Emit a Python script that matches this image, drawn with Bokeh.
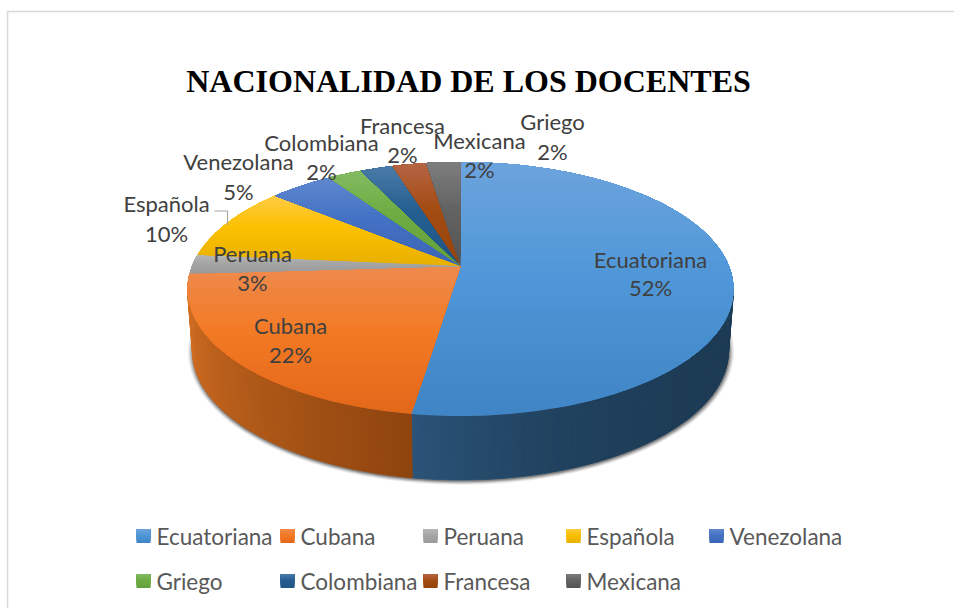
import numpy as np
from bokeh.embed import file_html
from bokeh.resources import INLINE
from bokeh.plotting import figure
from bokeh.models import Range1d
from bokeh.core.properties import value

# ---- data ----
title = "NACIONALIDAD DE LOS DOCENTES"
categories = ["Ecuatoriana", "Cubana", "Peruana", "Española", "Venezolana",
              "Griego", "Colombiana", "Francesa", "Mexicana"]
shares = [52.4, 21.6, 2.5, 9.5, 4.5, 2.4, 2.3, 2.4, 2.4]
percent_labels = ["52%", "22%", "3%", "10%", "5%", "2%", "2%", "2%", "2%"]

# ---- styles ----
top_colors = ["#6CA4DC", "#EE8A4E", "#B8B8B8", "#FFCB45", "#6088CF", "#83BB63", "#4A7CA8", "#B56545", "#7E7E7E"]
mid_colors = ["#4F97D8", "#F37A24", "#A5A5A5", "#FBC000", "#4472C4", "#6DAD42", "#255E91", "#A44C12", "#636363"]
low_colors = ["#3F85C6", "#E2671A", "#9A9A9A", "#E8B000", "#3A64B5", "#64A03A", "#1F5585", "#95440C", "#545454"]
wall_right = {0: "#1C3A54", 1: "#8E440E"}
wall_left = {0: "#2A5478", 1: "#D26E22"}
wall_power = {0: 3.0, 1: 1.0}

# ---- layout ----
label_xy = [(651, 260, 288), (291, 326, 355), (253, 254, 283), (167, 204, 234), (239, 162, 192),
            (553, 122, 152), (322, 143, 172), (403, 126, 155), (480, 141, 170)]
legend_x = [137, 281, 424, 567, 710]
legend_y = [537, 582]
FONT = "Lato"


def hex2rgb(c):
    return np.array([int(c[i:i + 2], 16) for i in (1, 3, 5)], float)


def mix(a, b, t):
    v = hex2rgb(a) * (1 - t) + hex2rgb(b) * t
    return "#%02x%02x%02x" % tuple(int(round(x)) for x in v)


# pie projection: a circle seen in perspective
CX, APEX_Y = 461.0, 267.0
UP, DOWN, RX = 104.0, 150.0, 273.0
A = (DOWN - UP) / (DOWN + UP)
B = UP * (1 + A)
E = RX * np.sqrt(1 - A * A)
ELL_CY = APEX_Y + (DOWN - UP) / 2
ELL_RY = (UP + DOWN) / 2
BOT_CY, BOT_RY, BOT_RX = 352.0, 129.0, 268.0


def rim(theta):
    d = 1 + A * np.cos(theta)
    return CX + E * np.sin(theta) / d, APEX_Y - B * np.cos(theta) / d


def phi_of(theta):
    x, y = rim(theta)
    return np.mod(np.arctan2((x - CX) / RX, (ELL_CY - y) / ELL_RY), 2 * np.pi)


def clip_above(px, py, ylim):
    """Keep the part of a polygon with y <= ylim."""
    ox, oy = [], []
    n = len(px)
    for i in range(n):
        x1, y1, x2, y2 = px[i], py[i], px[(i + 1) % n], py[(i + 1) % n]
        in1, in2 = y1 <= ylim, y2 <= ylim
        if in1:
            ox.append(x1); oy.append(y1)
        if in1 != in2:
            t = (ylim - y1) / (y2 - y1)
            ox.append(x1 + t * (x2 - x1)); oy.append(ylim)
    return ox, oy


def gradient(px, py, c_top, c_mid, c_low, n=28):
    ymin, ymax = min(py), max(py)
    xs, ys, cols = [], [], []
    for k in range(n, 0, -1):
        f = k / n
        lim = ymin + (ymax - ymin) * f
        cx, cy = clip_above(list(px), list(py), lim + (1e-6 if k == n else 0))
        if len(cx) < 3:
            continue
        g = (k - .5) / n
        col = mix(c_top, c_mid, g / .45) if g < .45 else mix(c_mid, c_low, (g - .45) / .55)
        xs.append(cx); ys.append(cy); cols.append(col)
    return xs, ys, cols


p = figure(width=954, height=608, output_backend="svg", toolbar_location=None,
           x_range=Range1d(1, 955), y_range=Range1d(609.5, 1.5), min_border=0,
           outline_line_color=None, background_fill_color="white")
p.axis.visible = False
p.grid.visible = False

# chart frame (only left and top edges fall inside the picture)
p.line([8.0, 8.0, 955], [610, 12.5, 12.5], line_color="#D9D9D9", line_width=1.6)

p.text([469], [82], text=[title], text_font=value("Liberation Serif"), text_font_style="bold",
       text_font_size="32px", text_color="black", text_align="center", text_baseline="middle")

# soft shadow under the wall
phi = np.linspace(0, 2 * np.pi, 240)
for g, al in [(5.0, .07), (4.0, .10), (3.0, .14), (2.0, .20), (1.0, .28)]:
    p.patch(CX + 0.5 + (BOT_RX + g) * np.sin(phi), BOT_CY + .8 + (BOT_RY + g * .8) * np.cos(phi),
            fill_color="#303030", fill_alpha=al, line_color=None)

# side wall
total = sum(shares)
bounds = np.cumsum([0] + shares) / total * 2 * np.pi
xs, ys, cols = [], [], []
for i in range(len(shares)):
    if i not in wall_right:
        continue
    f0, f1 = float(phi_of(bounds[i])), float(phi_of(bounds[i + 1]))
    f0, f1 = max(f0, np.pi / 2), min(f1, 3 * np.pi / 2)
    if f1 <= f0:
        continue
    grid = np.linspace(f0, f1, max(4, int((f1 - f0) / np.radians(1.5))))
    for a, b in zip(grid[:-1], grid[1:]):
        xs.append([CX + RX * np.sin(a), CX + RX * np.sin(b), CX + BOT_RX * np.sin(b), CX + BOT_RX * np.sin(a)])
        ys.append([ELL_CY - ELL_RY * np.cos(a), ELL_CY - ELL_RY * np.cos(b),
                   BOT_CY - BOT_RY * np.cos(b), BOT_CY - BOT_RY * np.cos(a)])
        t = ((a + b) / 2 - f0) / (f1 - f0)
        cols.append(mix(wall_right[i], wall_left[i], t ** wall_power[i]))
p.patches(xs, ys, fill_color=cols, line_color=cols, line_width=0.8)

# top face, one gradient per slice
for i in range(len(shares)):
    th = np.linspace(bounds[i], bounds[i + 1], max(6, int(shares[i] * 3)))
    rx_, ry_ = rim(th)
    px = [CX] + list(rx_)
    py = [APEX_Y] + list(ry_)
    gx, gy, gc = gradient(px, py, top_colors[i], mid_colors[i], low_colors[i])
    p.patches(gx, gy, fill_color=gc, line_color=None)

# leader line of Española
p.line([215, 228, 228], [212, 212, 226], line_color="#A6A6A6", line_width=1.1)

# data labels
for (x, y1, y2), cat, pct in zip(label_xy, categories, percent_labels):
    p.text([x, x], [y1, y2], text=[cat, pct], text_font=value(FONT), text_font_size="22px",
           text_color="#404040", text_align="center", text_baseline="middle")

# legend
for i, cat in enumerate(categories):
    row, col = divmod(i, 5)
    x0, yc = legend_x[col], legend_y[row]
    gx, gy, gc = gradient([x0, x0 + 14, x0 + 14, x0], [yc - 7, yc - 7, yc + 7, yc + 7],
                          top_colors[i], mid_colors[i], low_colors[i], n=8)
    p.patches(gx, gy, fill_color=gc, line_color=None)
    p.text([x0 + 20], [yc], text=[cat], text_font=value(FONT), text_font_size="22.5px",
           text_color="#595959", text_align="left", text_baseline="middle")

open("out.html", "w").write(file_html(p, INLINE))
